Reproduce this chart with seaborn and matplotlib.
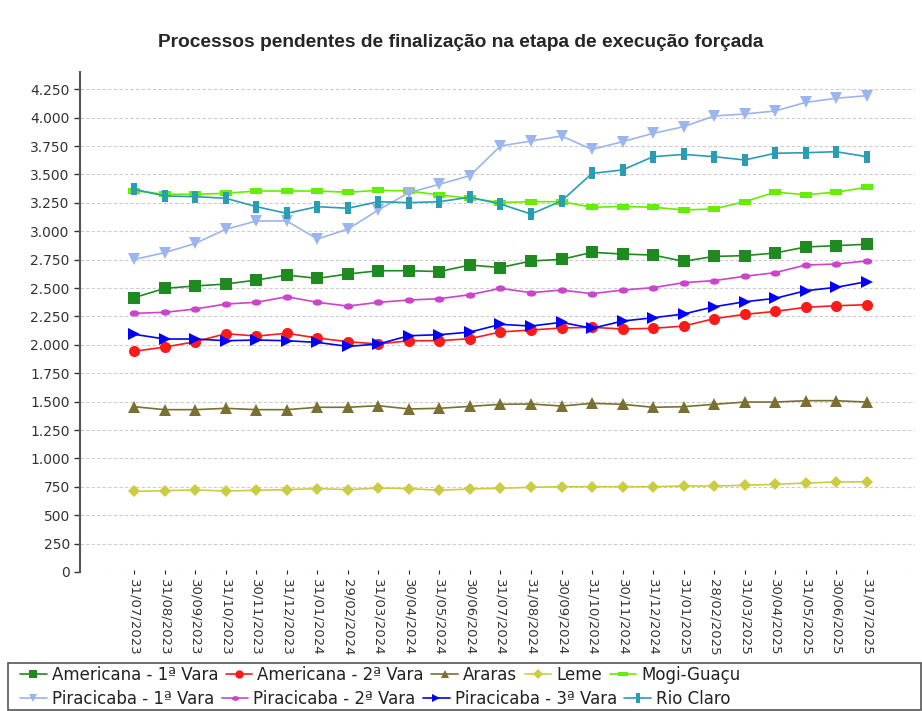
import numpy as np
import pandas as pd
import seaborn as sns
import matplotlib.pyplot as plt
from matplotlib.patches import Rectangle
from matplotlib.ticker import FuncFormatter

dates = ['31/07/2023', '31/08/2023', '30/09/2023', '31/10/2023', '30/11/2023', '31/12/2023',
         '31/01/2024', '29/02/2024', '31/03/2024', '30/04/2024', '31/05/2024', '30/06/2024',
         '31/07/2024', '31/08/2024', '30/09/2024', '31/10/2024', '30/11/2024', '31/12/2024',
         '31/01/2025', '28/02/2025', '31/03/2025', '30/04/2025', '31/05/2025', '30/06/2025',
         '31/07/2025']

americana_1 = [2415, 2497, 2518, 2535, 2570, 2614, 2585, 2623, 2652, 2652, 2645, 2702, 2680,
               2738, 2752, 2814, 2799, 2790, 2735, 2778, 2785, 2808, 2861, 2873, 2885]
americana_2 = [1943, 1980, 2027, 2098, 2077, 2101, 2060, 2027, 2007, 2036, 2036, 2054, 2113,
               2130, 2148, 2154, 2139, 2145, 2165, 2230, 2268, 2294, 2330, 2344, 2353]
araras = [1455, 1429, 1429, 1441, 1429, 1429, 1450, 1450, 1464, 1435, 1441, 1458, 1476,
          1479, 1461, 1485, 1476, 1450, 1455, 1476, 1496, 1496, 1508, 1508, 1496]
leme = [710, 716, 722, 713, 719, 725, 734, 725, 739, 734, 719, 731, 737,
        745, 751, 751, 751, 751, 757, 757, 763, 772, 783, 792, 795]
mogi_guacu = [3357, 3325, 3325, 3334, 3354, 3354, 3354, 3343, 3360, 3354, 3319, 3290, 3252,
              3260, 3260, 3211, 3217, 3211, 3187, 3196, 3260, 3343, 3322, 3343, 3387]
piracicaba_1 = [2752, 2811, 2893, 3017, 3090, 3090, 2931, 3019, 3187, 3339, 3413, 3489, 3750,
                3794, 3838, 3720, 3788, 3861, 3920, 4014, 4032, 4058, 4134, 4170, 4193]
piracicaba_2 = [2277, 2286, 2315, 2359, 2374, 2423, 2374, 2341, 2374, 2394, 2406, 2441, 2497,
                2459, 2482, 2450, 2482, 2503, 2547, 2565, 2603, 2635, 2702, 2711, 2738]
piracicaba_3 = [2092, 2051, 2051, 2036, 2042, 2036, 2021, 1986, 2007, 2080, 2089, 2112, 2180,
                2165, 2198, 2145, 2209, 2238, 2271, 2335, 2379, 2409, 2476, 2506, 2556]
rio_claro = [3369, 3310, 3304, 3290, 3216, 3157, 3216, 3202, 3260, 3251, 3260, 3299, 3239,
             3151, 3266, 3509, 3539, 3656, 3676, 3656, 3627, 3686, 3691, 3700, 3656]

names = ['Americana - 1ª Vara', 'Americana - 2ª Vara', 'Araras', 'Leme', 'Mogi-Guaçu',
         'Piracicaba - 1ª Vara', 'Piracicaba - 2ª Vara', 'Piracicaba - 3ª Vara', 'Rio Claro']
series = [americana_1, americana_2, araras, leme, mogi_guacu,
          piracicaba_1, piracicaba_2, piracicaba_3, rio_claro]

hrect = [(-1, -0.5), (1, -0.5), (1, 0.5), (-1, 0.5), (-1, -0.5)]
vrect = [(-0.5, -1), (0.5, -1), (0.5, 1), (-0.5, 1), (-0.5, -1)]
ellipse = [(np.cos(t) * 1.0, np.sin(t) * 0.65) for t in np.linspace(0, 2 * np.pi, 25)]

styles = {
    'Americana - 1ª Vara': ('#1f8a1f', 's', 8),
    'Americana - 2ª Vara': ('#ff1a1a', 'o', 8),
    'Araras': ('#7a7032', '^', 8),
    'Leme': ('#cccc44', 'D', 6.5),
    'Mogi-Guaçu': ('#66ee00', hrect, 9),
    'Piracicaba - 1ª Vara': ('#9db5ee', 'v', 8.5),
    'Piracicaba - 2ª Vara': ('#cc44cc', ellipse, 7),
    'Piracicaba - 3ª Vara': ('#0000ff', '>', 8.5),
    'Rio Claro': ('#2a9cb4', vrect, 9),
}

df = pd.DataFrame({'x': np.tile(np.arange(len(dates)), len(names)),
                   'vara': np.repeat(names, len(dates)),
                   'valor': np.concatenate(series)})

sns.set_style('white')
plt.rcParams['font.family'] = ['DejaVu Sans']

fig = plt.figure(figsize=(9.22, 7.11), dpi=100)
ax = fig.add_axes([0.087, 0.1955, 0.905, 0.703])

handles = {}
for name in names:
    color, marker, ms = styles[name]
    sub = df[df['vara'] == name]
    sns.lineplot(data=sub, x='x', y='valor', color=color, marker=marker, markersize=ms,
                 markeredgewidth=0, linewidth=1.2, ax=ax, legend=False)
    handles[name] = ax.lines[-1]

ax.set_xlim(-1.77, 25.57)
ax.set_ylim(0, 4400)
ax.set_yticks(np.arange(0, 4251, 250))
ax.yaxis.set_major_formatter(FuncFormatter(lambda v, p: f'{int(v):,}'.replace(',', '.')))
ax.set_xticks(np.arange(len(dates)))
ax.set_xticklabels(dates, rotation=270, fontsize=9.5, color='#333333')
ax.tick_params(axis='y', labelsize=10, colors='#333333', length=4, width=1, direction='out', left=True)
ax.tick_params(axis='x', length=3, width=0.8, direction='inout', bottom=True)
ax.set_xlabel('')
ax.set_ylabel('')
ax.grid(axis='y', linestyle=(0, (3, 2)), color='#cccccc', linewidth=0.8)
ax.set_axisbelow(True)
for s in ['top', 'right', 'bottom']:
    ax.spines[s].set_visible(False)
ax.spines['left'].set_color('#555555')
ax.spines['left'].set_linewidth(1.5)

fig.text(0.5, 0.94, 'Processos pendentes de finalização na etapa de execução forçada',
         ha='center', va='center', fontsize=13.8, fontweight='bold',
         family=['Liberation Sans', 'DejaVu Sans'])

# legend box
fig.patches.append(Rectangle((0.009, 0.0015), 0.99, 0.066, transform=fig.transFigure,
                             facecolor='white', edgecolor='#555555', linewidth=1.2))
row1 = names[:5]
row2 = names[5:]
leg_kw = dict(loc='center left', frameon=False, fontsize=12, handlelength=1.6,
              handletextpad=0.3, columnspacing=0.45, borderpad=0.1, markerscale=0.75,
              labelcolor='#222222')
fig.legend([handles[n] for n in row1], row1, bbox_to_anchor=(0.011, 0.0506), ncol=5, **leg_kw)
fig.legend([handles[n] for n in row2], row2, bbox_to_anchor=(0.011, 0.0169), ncol=4, **leg_kw)

fig.savefig('out.png', dpi=100)
